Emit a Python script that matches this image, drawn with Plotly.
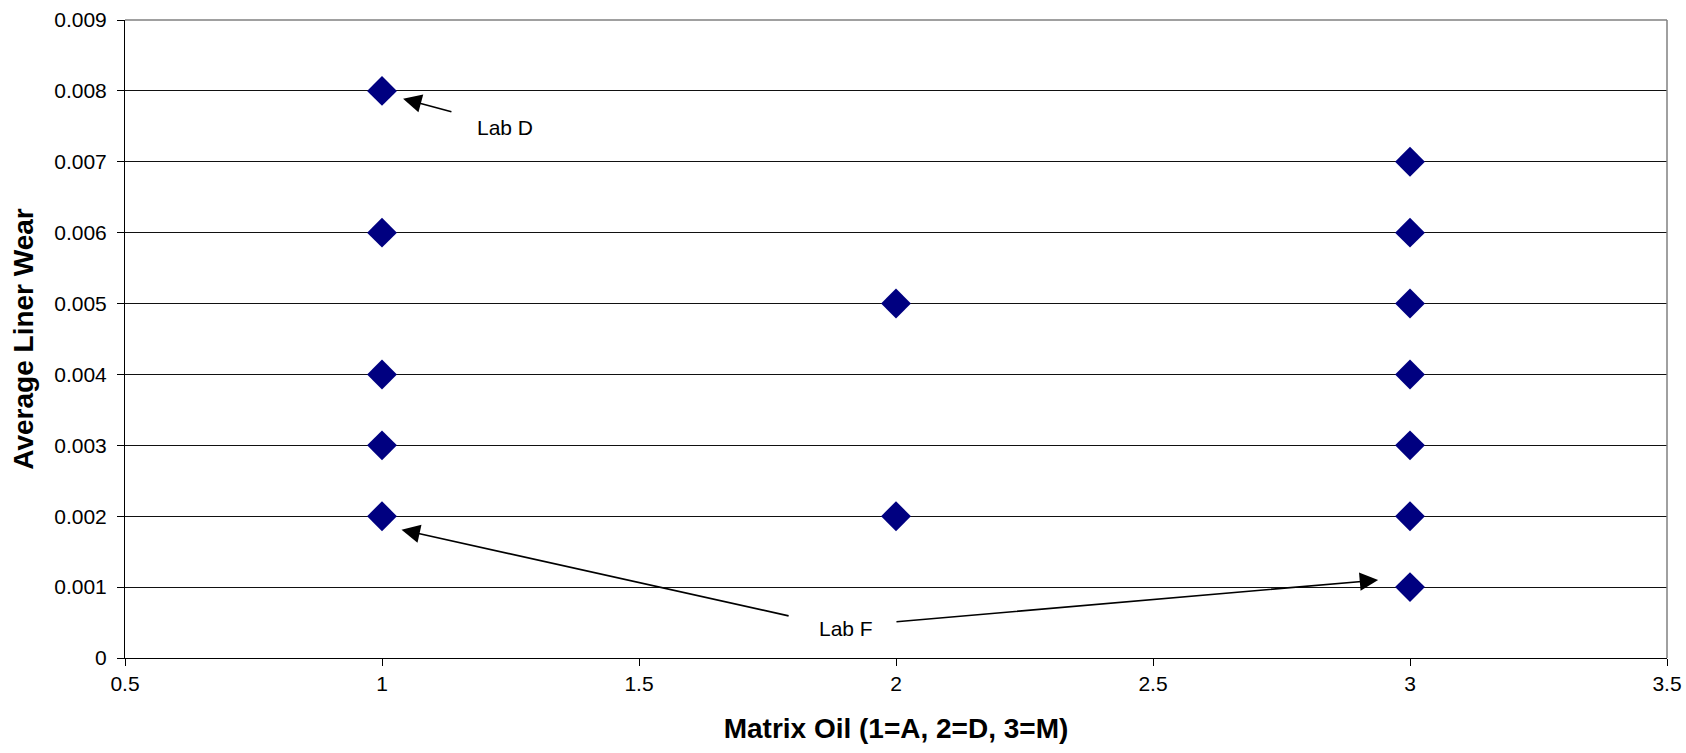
import plotly.graph_objects as go

# Data
oil = [1, 1, 1, 1, 1, 2, 2, 3, 3, 3, 3, 3, 3, 3]
wear = [0.008, 0.006, 0.004, 0.003, 0.002,
        0.005, 0.002,
        0.007, 0.006, 0.005, 0.004, 0.003, 0.002, 0.001]

x_ticks = [0.5, 1, 1.5, 2, 2.5, 3, 3.5]
x_ticktext = ["0.5", "1", "1.5", "2", "2.5", "3", "3.5"]
y_ticks = [0, 0.001, 0.002, 0.003, 0.004, 0.005, 0.006, 0.007, 0.008, 0.009]
y_ticktext = ["0", "0.001", "0.002", "0.003", "0.004", "0.005", "0.006", "0.007", "0.008", "0.009"]

FONT = "Liberation Sans, Arial, sans-serif"

fig = go.Figure()
fig.add_trace(go.Scatter(
    x=oil, y=wear, mode="markers",
    marker=dict(symbol="diamond", size=23, color="#000080", line=dict(width=0)),
    showlegend=False, hoverinfo="x+y",
))

fig.update_layout(
    width=1686, height=753,
    margin=dict(l=125, r=19, t=20, b=95, autoexpand=False),
    paper_bgcolor="white", plot_bgcolor="white",
    font=dict(family=FONT, color="black"),
    xaxis=dict(
        range=[0.5, 3.5], tickvals=x_ticks, ticktext=x_ticktext,
        showgrid=False, zeroline=False, automargin=False,
        showline=True, linecolor="black", linewidth=1,
        ticks="outside", ticklen=7, tickcolor="black",
        tickfont=dict(size=21, family=FONT),
        title=dict(text="<b>Matrix Oil (1=A, 2=D, 3=M)</b>", font=dict(size=28, family=FONT), standoff=24),
    ),
    yaxis=dict(
        range=[0, 0.009], tickvals=y_ticks, ticktext=y_ticktext,
        showgrid=True, gridcolor="#111111", gridwidth=1, zeroline=False, automargin=False,
        showline=True, linecolor="black", linewidth=1,
        ticks="outside", ticklen=7, tickcolor="black",
        tickfont=dict(size=21, family=FONT), ticklabelstandoff=6,
        title=dict(text="<b>Average Liner Wear</b>", font=dict(size=28, family=FONT), standoff=12),
    ),
)

# plot-area border (top and right, gray)
fig.add_shape(type="line", xref="paper", yref="paper", x0=0, x1=1, y0=1, y1=1,
              line=dict(color="#808080", width=1.5))
fig.add_shape(type="line", xref="paper", yref="paper", x0=1, x1=1, y0=0, y1=1,
              line=dict(color="#808080", width=1.5))

arrow_style = dict(showarrow=True, arrowhead=2, arrowsize=2.3, arrowwidth=1.6,
                   arrowcolor="black", axref="x", ayref="y", xref="x", yref="y", text="")
# Lab D
fig.add_annotation(x=1.041, y=0.00789, ax=1.138, ay=0.00770, **arrow_style)
fig.add_annotation(x=1.239, y=0.00748, text="Lab D", showarrow=False,
                   font=dict(size=21, family=FONT, color="black"))
# Lab F
fig.add_annotation(x=1.038, y=0.00181, ax=1.794, ay=0.00059, **arrow_style)
fig.add_annotation(x=2.938, y=0.00110, ax=1.998, ay=0.00051, **arrow_style)
fig.add_annotation(x=1.903, y=0.00042, text="Lab F", showarrow=False,
                   font=dict(size=21, family=FONT, color="black"))

fig.write_html("out.html")
